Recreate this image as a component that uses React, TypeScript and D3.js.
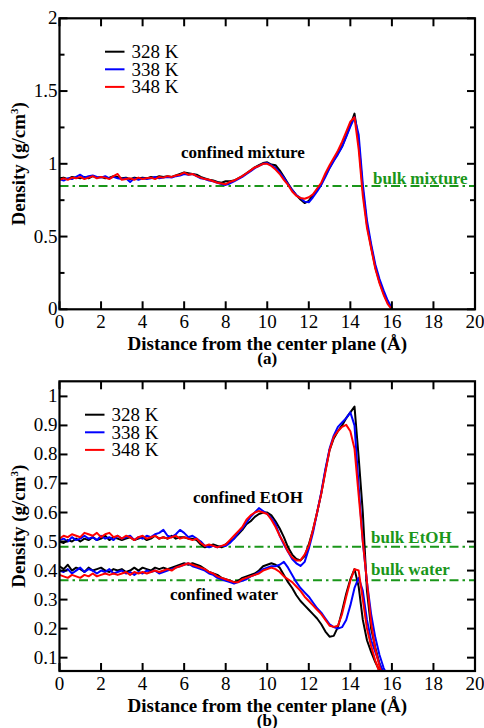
import React from "react";
import * as d3 from "d3";

// ---------- DATA ----------
const distance = [
  0, 0.2, 0.4, 0.6, 0.8, 1, 1.2, 1.4, 1.6, 1.8, 2, 2.2, 2.4, 2.6, 2.8, 3, 3.2, 3.4, 3.6, 3.8,
  4, 4.2, 4.4, 4.6, 4.8, 5, 5.2, 5.4, 5.6, 5.8, 6, 6.2, 6.4, 6.6, 6.8, 7, 7.2, 7.4, 7.6, 7.8,
  8, 8.2, 8.4, 8.6, 8.8, 9, 9.2, 9.4, 9.6, 9.8, 10, 10.2, 10.4, 10.6, 10.8, 11, 11.2, 11.4, 11.6, 11.8,
  12, 12.2, 12.4, 12.6, 12.8, 13, 13.2, 13.4, 13.6, 13.8, 14, 14.2, 14.4, 14.6, 14.8, 15, 15.2, 15.4, 15.6, 15.8, 16,
];

const temperatures = ["328 K", "338 K", "348 K"];
const seriesColors = ["#000000", "#0000ff", "#ff0000"];

// Panel (a): total density of the confined mixture
const mix328 = [
  0.9, 0.905, 0.895, 0.91, 0.905, 0.9, 0.91, 0.9, 0.915, 0.905, 0.91, 0.9, 0.905, 0.915, 0.91, 0.9, 0.905, 0.895, 0.905, 0.9,
  0.905, 0.9, 0.91, 0.905, 0.915, 0.91, 0.915, 0.91, 0.92, 0.93, 0.94, 0.935, 0.93, 0.925, 0.91, 0.9, 0.89, 0.885, 0.875, 0.87,
  0.88, 0.88, 0.885, 0.9, 0.915, 0.935, 0.955, 0.975, 0.99, 1.005, 1.01, 0.995, 0.99, 0.955, 0.91, 0.865, 0.82, 0.785, 0.755, 0.73,
  0.745, 0.785, 0.82, 0.86, 0.92, 0.975, 1.025, 1.07, 1.12, 1.19, 1.265, 1.345, 1.15, 0.82, 0.58, 0.43, 0.29, 0.19, 0.11, 0.045, 0,
];
const mix338 = [
  0.895, 0.885, 0.9, 0.895, 0.91, 0.925, 0.905, 0.915, 0.92, 0.91, 0.905, 0.915, 0.9, 0.91, 0.9, 0.895, 0.9, 0.875, 0.9, 0.89,
  0.9, 0.895, 0.9, 0.91, 0.9, 0.905, 0.91, 0.905, 0.915, 0.92, 0.93, 0.925, 0.93, 0.915, 0.9, 0.895, 0.885, 0.88, 0.87, 0.86,
  0.855, 0.865, 0.88, 0.895, 0.91, 0.93, 0.95, 0.97, 0.985, 1.0, 1.005, 0.99, 0.97, 0.94, 0.905, 0.86, 0.82, 0.785, 0.765, 0.74,
  0.735, 0.77, 0.81, 0.855, 0.91, 0.97, 1.02, 1.065, 1.115, 1.185, 1.255, 1.32, 1.2, 0.86, 0.61, 0.45, 0.31, 0.21, 0.13, 0.06, 0.005,
];
const mix348 = [
  0.89, 0.9, 0.89, 0.905, 0.9, 0.91, 0.895, 0.905, 0.915, 0.9, 0.91, 0.905, 0.895, 0.915, 0.93, 0.89, 0.895, 0.9, 0.89, 0.905,
  0.895, 0.9, 0.905, 0.895, 0.91, 0.905, 0.915, 0.91, 0.92, 0.925, 0.94, 0.925, 0.93, 0.915, 0.905, 0.895, 0.89, 0.88, 0.87, 0.865,
  0.86, 0.875, 0.885, 0.9, 0.915, 0.935, 0.955, 0.975, 0.985, 1.0, 1.0, 0.985, 0.96, 0.93, 0.89, 0.855, 0.81, 0.78, 0.765, 0.76,
  0.77, 0.79, 0.83, 0.87, 0.935, 0.99, 1.04, 1.09, 1.15, 1.22, 1.29, 1.32, 1.1, 0.78, 0.56, 0.42, 0.28, 0.18, 0.1, 0.035, 0,
];

// Panel (b): partial densities
const etoh328 = [
  0.5, 0.495, 0.505, 0.5, 0.51, 0.5, 0.51, 0.505, 0.515, 0.505, 0.51, 0.52, 0.505, 0.515, 0.51, 0.505, 0.51, 0.515, 0.505, 0.51,
  0.515, 0.505, 0.51, 0.52, 0.51, 0.515, 0.51, 0.52, 0.51, 0.515, 0.515, 0.51, 0.51, 0.505, 0.49, 0.48, 0.485, 0.49, 0.485, 0.48,
  0.49, 0.5, 0.51, 0.525, 0.54, 0.56, 0.57, 0.585, 0.595, 0.6, 0.6, 0.59, 0.57, 0.545, 0.515, 0.48, 0.455, 0.44, 0.435, 0.45,
  0.49, 0.54, 0.6, 0.665, 0.745, 0.815, 0.855, 0.88, 0.9, 0.925, 0.945, 0.965, 0.79, 0.6, 0.33, 0.2, 0.135, 0.08, 0.04, 0.015, 0,
];
const etoh338 = [
  0.505, 0.51, 0.5, 0.515, 0.505, 0.51, 0.52, 0.51, 0.515, 0.505, 0.52, 0.51, 0.515, 0.505, 0.52, 0.51, 0.515, 0.52, 0.505, 0.515,
  0.51, 0.52, 0.515, 0.525, 0.53, 0.54, 0.52, 0.515, 0.525, 0.54, 0.53, 0.515, 0.52, 0.51, 0.5, 0.485, 0.48, 0.485, 0.48, 0.485,
  0.485, 0.495, 0.51, 0.53, 0.545, 0.565, 0.585, 0.6, 0.615, 0.605, 0.595, 0.58, 0.56, 0.52, 0.49, 0.465, 0.44, 0.425, 0.416, 0.43,
  0.475, 0.53, 0.6, 0.67, 0.75, 0.82, 0.865, 0.895, 0.91, 0.925, 0.945, 0.9, 0.69, 0.5, 0.36, 0.25, 0.17, 0.11, 0.065, 0.035, 0.01,
];
const etoh348 = [
  0.51, 0.52, 0.515, 0.525, 0.52, 0.515, 0.53, 0.525, 0.52, 0.53, 0.515, 0.525, 0.53, 0.515, 0.52, 0.51, 0.52, 0.515, 0.505, 0.515,
  0.52, 0.51, 0.515, 0.52, 0.51, 0.515, 0.51, 0.515, 0.52, 0.51, 0.515, 0.51, 0.505, 0.51, 0.495, 0.485, 0.49, 0.485, 0.48, 0.485,
  0.49, 0.505, 0.52, 0.535, 0.55, 0.575, 0.59, 0.6, 0.605, 0.6, 0.595, 0.575, 0.55, 0.52, 0.495, 0.465, 0.445, 0.435, 0.435, 0.455,
  0.485, 0.54, 0.6, 0.665, 0.74, 0.815, 0.86, 0.88, 0.895, 0.902, 0.88, 0.82, 0.66, 0.5, 0.36, 0.22, 0.13, 0.07, 0.03, 0.01, 0,
];
const water328 = [
  0.415, 0.405, 0.42, 0.4, 0.41, 0.405, 0.395, 0.41, 0.4, 0.405, 0.41, 0.4, 0.395, 0.405, 0.4, 0.405, 0.395, 0.4, 0.41, 0.4,
  0.41, 0.405, 0.4, 0.41, 0.405, 0.41, 0.405, 0.41, 0.415, 0.42, 0.425, 0.42, 0.425, 0.42, 0.415, 0.405, 0.395, 0.39, 0.385, 0.375,
  0.37, 0.365, 0.36, 0.365, 0.375, 0.38, 0.385, 0.39, 0.4, 0.415, 0.42, 0.425, 0.42, 0.41, 0.385, 0.36, 0.34, 0.315, 0.295, 0.28,
  0.265, 0.25, 0.235, 0.215, 0.19, 0.172, 0.175, 0.205, 0.26, 0.32, 0.37, 0.405, 0.345, 0.23, 0.16, 0.12, 0.085, 0.055, 0.03, 0.015, 0,
];
const water338 = [
  0.4, 0.395, 0.405, 0.39, 0.4, 0.41, 0.395, 0.405, 0.4, 0.39, 0.4, 0.395, 0.405, 0.39, 0.395, 0.4, 0.39, 0.395, 0.385, 0.395,
  0.39, 0.4, 0.395, 0.4, 0.39, 0.395, 0.4, 0.405, 0.41, 0.415, 0.42, 0.425, 0.415, 0.41, 0.405, 0.4, 0.39, 0.385, 0.375, 0.37,
  0.365, 0.36, 0.355, 0.36, 0.365, 0.37, 0.38, 0.385, 0.395, 0.405, 0.41, 0.415, 0.415, 0.42, 0.43, 0.41, 0.385, 0.36, 0.34, 0.325,
  0.31, 0.29, 0.27, 0.255, 0.235, 0.215, 0.205, 0.2, 0.205, 0.23, 0.28, 0.34, 0.375, 0.33, 0.23, 0.16, 0.12, 0.08, 0.05, 0.025, 0,
];
const water348 = [
  0.385, 0.38, 0.375, 0.385, 0.38, 0.375, 0.385, 0.38, 0.39, 0.38, 0.385, 0.39, 0.385, 0.39, 0.385, 0.39, 0.395, 0.385, 0.395, 0.39,
  0.395, 0.39, 0.395, 0.4, 0.395, 0.4, 0.405, 0.4, 0.41, 0.415, 0.42, 0.425, 0.42, 0.415, 0.41, 0.405, 0.395, 0.39, 0.38, 0.375,
  0.37, 0.365, 0.36, 0.36, 0.37, 0.375, 0.38, 0.385, 0.39, 0.4, 0.405, 0.41, 0.405, 0.395, 0.38, 0.37, 0.36, 0.345, 0.33, 0.31,
  0.295, 0.28, 0.265, 0.25, 0.23, 0.21, 0.206, 0.21, 0.25, 0.31, 0.365, 0.405, 0.4, 0.3, 0.2, 0.14, 0.09, 0.05, 0.02, 0.01, 0,
];

const bulkMixture = 0.848;
const bulkEtOH = 0.482;
const bulkWater = 0.367;

const xTicks = [0, 2, 4, 6, 8, 10, 12, 14, 16, 18, 20];
const yTicksA = [0, 0.5, 1, 1.5, 2];
const yMinorA = [0.25, 0.75, 1.25, 1.75];
const yTicksB = [0.1, 0.2, 0.3, 0.4, 0.5, 0.6, 0.7, 0.8, 0.9, 1];

// ---------- STYLE ----------
const FONT = "'Liberation Serif', 'Times New Roman', serif";
const GREEN = "#1a961a";
const LEFT = 59.5;
const RIGHT = 475;
const FS = 19;

type Series = { values: number[]; color: string };

function Panel(props: {
  id: string;
  top: number;
  bottom: number;
  yDomain: [number, number];
  yTicks: number[];
  yMinor: number[];
  series: Series[];
  bulks: { value: number }[];
  legendX: number;
  legendY: number;
  texts: { text: string; x: number; y: number; color: string }[];
  tag: string;
}) {
  const { id, top, bottom, yDomain, yTicks, yMinor, series, bulks, legendX, legendY, texts, tag } = props;
  const x = d3.scaleLinear().domain([0, 20]).range([LEFT, RIGHT]);
  const y = d3.scaleLinear().domain(yDomain).range([bottom, top]);
  const line = d3
    .line<number>()
    .x((_, i) => x(distance[i]))
    .y((v) => y(v));
  const major = 8;
  const minor = 5;
  return (
    <g>
      <defs>
        <clipPath id={id}>
          <rect x={LEFT} y={top} width={RIGHT - LEFT} height={bottom - top} />
        </clipPath>
      </defs>
      <g clipPath={`url(#${id})`}>
        {bulks.map((b, i) => (
          <line
            key={i}
            x1={LEFT}
            x2={RIGHT}
            y1={y(b.value)}
            y2={y(b.value)}
            stroke={GREEN}
            strokeWidth={2}
            strokeDasharray="9,4,2.5,4"
          />
        ))}
        {series.map((s, i) => (
          <path
            key={i}
            d={line(s.values) || ""}
            fill="none"
            stroke={s.color}
            strokeWidth={2}
            strokeLinejoin="round"
          />
        ))}
      </g>
      {xTicks.map((t) => (
        <g key={"x" + t}>
          <line x1={x(t)} x2={x(t)} y1={bottom} y2={bottom - major} stroke="#000" strokeWidth={2} />
          <line x1={x(t)} x2={x(t)} y1={top} y2={top + major} stroke="#000" strokeWidth={2} />
          <text x={x(t)} y={bottom + 18.5} textAnchor="middle" fontFamily={FONT} fontSize={FS}>
            {t}
          </text>
        </g>
      ))}
      {yTicks.map((t) => (
        <g key={"y" + t}>
          <line x1={LEFT} x2={LEFT + major} y1={y(t)} y2={y(t)} stroke="#000" strokeWidth={2} />
          <line x1={RIGHT} x2={RIGHT - major} y1={y(t)} y2={y(t)} stroke="#000" strokeWidth={2} />
          <text x={LEFT - 2} y={y(t) + 6} textAnchor="end" fontFamily={FONT} fontSize={FS}>
            {String(t)}
          </text>
        </g>
      ))}
      {yMinor.map((t) => (
        <g key={"ym" + t}>
          <line x1={LEFT} x2={LEFT + minor} y1={y(t)} y2={y(t)} stroke="#000" strokeWidth={2} />
          <line x1={RIGHT} x2={RIGHT - minor} y1={y(t)} y2={y(t)} stroke="#000" strokeWidth={2} />
        </g>
      ))}
      <rect
        x={LEFT}
        y={top}
        width={RIGHT - LEFT}
        height={bottom - top}
        fill="none"
        stroke="#000"
        strokeWidth={2.2}
      />
      {temperatures.map((t, i) => (
        <g key={t}>
          <line
            x1={legendX}
            x2={legendX + 19.5}
            y1={legendY + i * 17.6}
            y2={legendY + i * 17.6}
            stroke={seriesColors[i]}
            strokeWidth={2}
          />
          <text x={legendX + 26.5} y={legendY + i * 17.6 + 6.5} fontFamily={FONT} fontSize={FS}>
            {t}
          </text>
        </g>
      ))}
      {texts.map((t, i) => (
        <text
          key={i}
          x={t.x}
          y={t.y}
          fontFamily={FONT}
          fontSize={17}
          fontWeight="bold"
          fill={t.color}
        >
          {t.text}
        </text>
      ))}
      <text
        x={(LEFT + RIGHT) / 2}
        y={bottom + 41}
        textAnchor="middle"
        fontFamily={FONT}
        fontSize={FS}
        fontWeight="bold"
      >
        Distance from the center plane (Å)
      </text>
      <text
        x={(LEFT + RIGHT) / 2}
        y={bottom + 54.5}
        textAnchor="middle"
        fontFamily={FONT}
        fontSize={17}
        fontWeight="bold"
      >
        {tag}
      </text>
      <text
        transform={`translate(25, ${(top + bottom) / 2}) rotate(-90)`}
        textAnchor="middle"
        fontFamily={FONT}
        fontSize={FS}
        fontWeight="bold"
      >
        Density (g/cm
        <tspan fontSize={11} dy={-7}>
          3
        </tspan>
        <tspan dy={7}>)</tspan>
      </text>
    </g>
  );
}

export default function App() {
  return (
    <svg
      width={484}
      height={728}
      style={{ position: "absolute", left: 0, top: 0, background: "#fff" }}
    >
      <rect width={484} height={728} fill="#fff" />
      <Panel
        id="clipA"
        top={18.3}
        bottom={309.3}
        yDomain={[0, 2]}
        yTicks={yTicksA}
        yMinor={yMinorA}
        series={[
          { values: mix328, color: seriesColors[0] },
          { values: mix338, color: seriesColors[1] },
          { values: mix348, color: seriesColors[2] },
        ]}
        bulks={[{ value: bulkMixture }]}
        legendX={105}
        legendY={51.7}
        texts={[
          { text: "confined mixture", x: 181, y: 158.3, color: "#000" },
          { text: "bulk mixture", x: 373, y: 184, color: GREEN },
        ]}
        tag="(a)"
      />
      <Panel
        id="clipB"
        top={381.3}
        bottom={671}
        yDomain={[0.054, 1.052]}
        yTicks={yTicksB}
        yMinor={[]}
        series={[
          { values: etoh328, color: seriesColors[0] },
          { values: water328, color: seriesColors[0] },
          { values: etoh338, color: seriesColors[1] },
          { values: water338, color: seriesColors[1] },
          { values: etoh348, color: seriesColors[2] },
          { values: water348, color: seriesColors[2] },
        ]}
        bulks={[{ value: bulkEtOH }, { value: bulkWater }]}
        legendX={85}
        legendY={414.7}
        texts={[
          { text: "confined EtOH", x: 193, y: 503.3, color: "#000" },
          { text: "confined water", x: 170, y: 600, color: "#000" },
          { text: "bulk EtOH", x: 371, y: 543, color: GREEN },
          { text: "bulk water", x: 371, y: 575, color: GREEN },
        ]}
        tag="(b)"
      />
    </svg>
  );
}
